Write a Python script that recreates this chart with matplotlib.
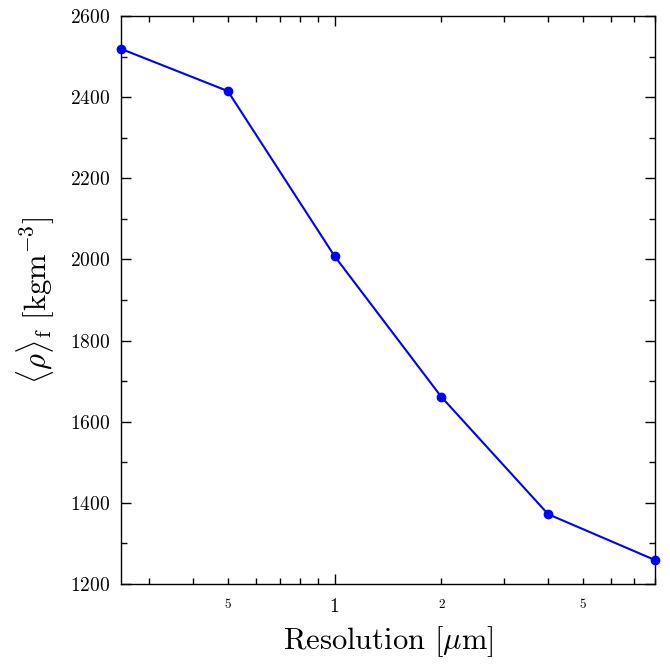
import matplotlib
matplotlib.use("Agg")
import matplotlib.pyplot as plt
from matplotlib.ticker import FixedLocator, FixedFormatter, MultipleLocator

plt.rcParams['font.family'] = ['cmr10', 'DejaVu Serif']
plt.rcParams['mathtext.fontset'] = 'cm'
plt.rcParams['axes.unicode_minus'] = False
plt.rcParams['axes.formatter.use_mathtext'] = True

resolution = [0.25, 0.5, 1, 2, 4, 8]
density = [2519, 2415, 2008, 1661, 1372, 1259]

major_x = [1]
major_x_labels = ['1']
minor_x = [0.3, 0.4, 0.5, 0.6, 0.7, 0.8, 0.9, 2, 3, 4, 5, 6, 7, 8]
minor_x_labels = ['', '', '5', '', '', '', '', '2', '', '', '5', '', '', '']

fig = plt.figure(figsize=(6.7, 6.65), dpi=100)
ax = fig.add_axes([121/670, 1 - 584/665, (655-121)/670, (584-16)/665])

ax.plot(resolution, density, color='#0000ff', marker='o', markersize=6, linewidth=1.5, clip_on=False, zorder=3)
ax.set_xscale('log')
ax.set_xlim(0.25, 8)
ax.set_ylim(1200, 2600)

ax.xaxis.set_major_locator(FixedLocator(major_x))
ax.xaxis.set_major_formatter(FixedFormatter(major_x_labels))
ax.xaxis.set_minor_locator(FixedLocator(minor_x))
ax.xaxis.set_minor_formatter(FixedFormatter(minor_x_labels))
ax.yaxis.set_major_locator(MultipleLocator(200))
ax.yaxis.set_minor_locator(MultipleLocator(100))

ax.tick_params(which='both', direction='in', top=True, right=True, width=1.0)
ax.tick_params(which='major', length=7, labelsize=14, pad=8)
ax.tick_params(which='minor', length=4, labelsize=9.5, pad=11)
ax.tick_params(axis='x', which='major', pad=10)
for s in ax.spines.values():
    s.set_linewidth(1.0)

ax.set_xlabel(r'Resolution [$\mu$m]', fontsize=22, labelpad=6)
ax.set_ylabel(r'$\langle\rho\rangle_{\rm f}$ [kgm$^{-3}$]', fontsize=22, labelpad=9)

fig.savefig('out.png', dpi=100)
